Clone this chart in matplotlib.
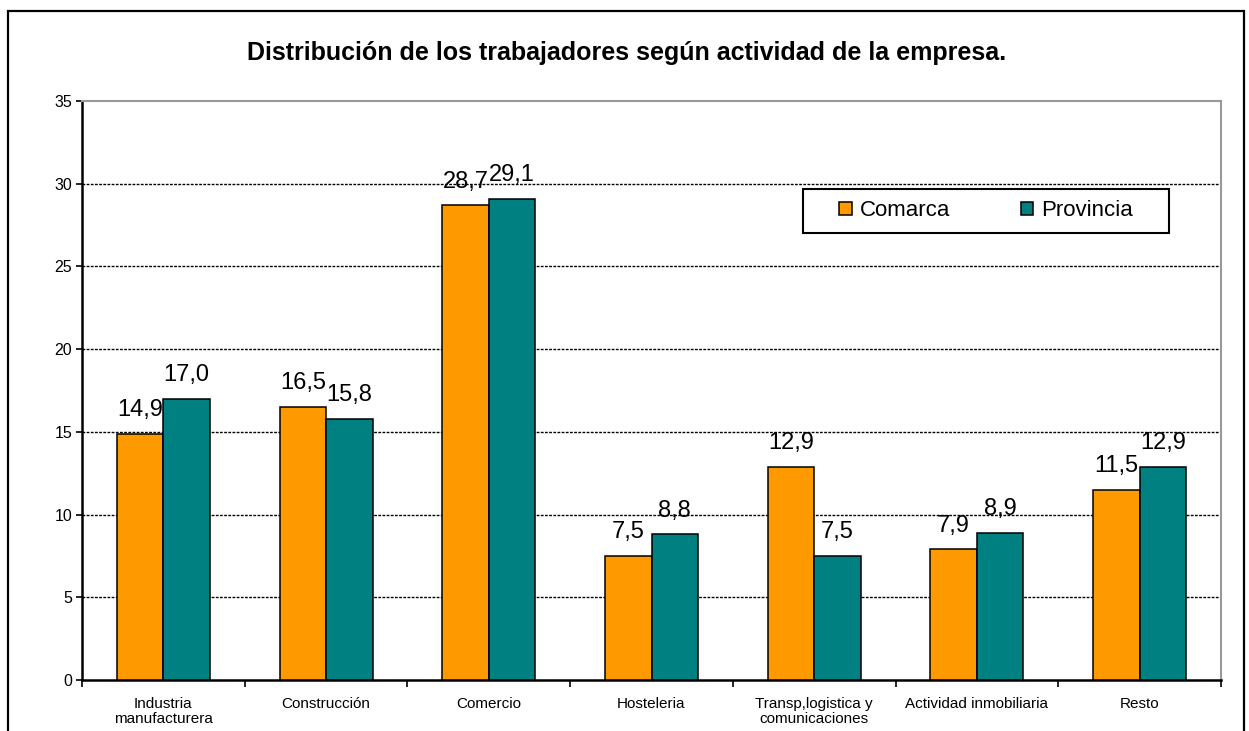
import matplotlib
matplotlib.use("Agg")
import matplotlib.pyplot as plt
from matplotlib.patches import Rectangle
from matplotlib.ticker import FixedLocator
import numpy as np

plt.rcParams['font.family'] = ['Liberation Sans', 'DejaVu Sans']

categories = ["Industria\nmanufacturera", "Construcción", "Comercio", "Hosteleria",
              "Transp,logistica y\ncomunicaciones", "Actividad inmobiliaria", "Resto"]
comarca = [14.9, 16.5, 28.7, 7.5, 12.9, 7.9, 11.5]
provincia = [17.0, 15.8, 29.1, 8.8, 7.5, 8.9, 12.9]
series_names = ["Comarca", "Provincia"]
title = "Distribución de los trabajadores según actividad de la empresa."
yticks = [0, 5, 10, 15, 20, 25, 30, 35]

W, H = 1249, 731
fig = plt.figure(figsize=(W / 100, H / 100), dpi=100)
ax = fig.add_axes([82 / W, 1 - 680 / H, (1221 - 82) / W, (680 - 101) / H])

x = np.arange(len(categories))
bw = 0.286
col_c = "#FF9900"
col_p = "#008080"
b1 = ax.bar(x - bw / 2, comarca, bw, color=col_c, edgecolor="black", linewidth=1.1, zorder=3, label=series_names[0])
b2 = ax.bar(x + bw / 2, provincia, bw, color=col_p, edgecolor="black", linewidth=1.1, zorder=3, label=series_names[1])

for bars, vals in ((b1, comarca), (b2, provincia)):
    for r, v in zip(bars, vals):
        ax.annotate(f"{v:.1f}".replace(".", ","), (r.get_x() + r.get_width() / 2, v),
                    xytext=(0, 17), textcoords="offset points", ha="center", va="center",
                    fontsize=17, zorder=4)

ax.set_xlim(-0.5, len(categories) - 0.5)
ax.set_ylim(0, 35)
ax.set_yticks(yticks)
ax.tick_params(axis="y", direction="out", length=4, width=1.2, pad=3, labelsize=11.5)
ax.set_xticks(x)
ax.set_xticklabels(categories, fontsize=11, linespacing=1.1)
ax.tick_params(axis="x", which="major", length=0, pad=12)
ax.xaxis.set_minor_locator(FixedLocator(np.arange(len(categories) + 1) - 0.5))
ax.tick_params(axis="x", which="minor", direction="out", length=5, width=1.2)

for yv in yticks[1:-1]:
    ax.axhline(yv, color="black", linewidth=1.0, linestyle=(0, (2, 1)), zorder=1)

ax.spines["left"].set_linewidth(1.8)
ax.spines["bottom"].set_linewidth(1.8)
ax.spines["top"].set_color("#999999")
ax.spines["top"].set_linewidth(1.5)
ax.spines["right"].set_color("#999999")
ax.spines["right"].set_linewidth(1.5)

fig.text(627 / W, 1 - 53 / H, title, ha="center", va="center", fontsize=18, fontweight="bold")

# legend
lx0, lx1, ly0, ly1 = 803, 1169, 189, 233
fig.patches.append(Rectangle((lx0 / W, 1 - ly1 / H), (lx1 - lx0) / W, (ly1 - ly0) / H,
                             transform=fig.transFigure, facecolor="white", edgecolor="black",
                             linewidth=1.5, zorder=5))
leg = fig.legend(handles=[b1, b2], labels=series_names, loc="center",
                 bbox_to_anchor=((lx0 + lx1) / 2 / W, 1 - (ly0 + ly1) / 2 / H),
                 ncol=2, frameon=False, fontsize=16, handlelength=0.55, handleheight=0.55,
                 handletextpad=0.35, columnspacing=3.2, borderpad=0.2)
leg.set_zorder(6)

# figure border
fig.patches.append(Rectangle((8 / W, -0.05), (1244 - 8) / W, 1 - 11 / H + 0.05,
                             transform=fig.transFigure, facecolor="none", edgecolor="black",
                             linewidth=1.6, zorder=10))

fig.savefig("out.png", dpi=100)
